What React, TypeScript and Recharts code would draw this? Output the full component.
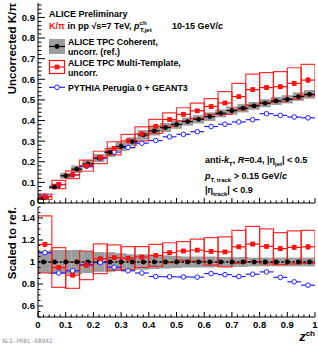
import React from "react";
import { ComposedChart, XAxis, YAxis, Scatter, ErrorBar, ReferenceArea } from "recharts";

const FONT = "'Liberation Sans', Arial, Helvetica, sans-serif";
const RED = "#ff1010";
const BLUE = "#2020ff";
const GRAY = "#9c9c9c";

// TPC coherent (reference): 25 bins of width 0.04
const zFine = [0.02, 0.06, 0.1, 0.14, 0.18, 0.22, 0.26, 0.3, 0.34, 0.38, 0.42, 0.46, 0.5, 0.54, 0.58, 0.62, 0.66, 0.7, 0.74, 0.78, 0.82, 0.86, 0.9, 0.94, 0.98];
const coherent = [0.024, 0.077, 0.132, 0.164, 0.19, 0.218, 0.246, 0.274, 0.298, 0.33, 0.35, 0.366, 0.381, 0.395, 0.406, 0.419, 0.435, 0.448, 0.46, 0.471, 0.484, 0.495, 0.503, 0.516, 0.527];
const coherentStat = [0.002, 0.002, 0.003, 0.003, 0.003, 0.003, 0.003, 0.003, 0.003, 0.003, 0.004, 0.004, 0.004, 0.004, 0.004, 0.005, 0.005, 0.005, 0.005, 0.006, 0.006, 0.006, 0.007, 0.007, 0.008];
const coherentSysRel = [0.1, 0.11, 0.11, 0.11, 0.1, 0.09, 0.09, 0.08, 0.07, 0.07, 0.065, 0.06, 0.055, 0.05, 0.05, 0.05, 0.045, 0.045, 0.045, 0.04, 0.04, 0.04, 0.04, 0.04, 0.04];

// multi-template and PYTHIA: 20 bins of width 0.05
const zCoarse = [0.025, 0.075, 0.125, 0.175, 0.225, 0.275, 0.325, 0.375, 0.425, 0.475, 0.525, 0.575, 0.625, 0.675, 0.725, 0.775, 0.825, 0.875, 0.925, 0.975];
const multi = [0.03, 0.09, 0.137, 0.181, 0.221, 0.265, 0.301, 0.335, 0.372, 0.405, 0.43, 0.447, 0.468, 0.485, 0.516, 0.55, 0.56, 0.564, 0.58, 0.596];
const multiStat = [0.003, 0.004, 0.004, 0.005, 0.005, 0.006, 0.006, 0.006, 0.007, 0.007, 0.008, 0.008, 0.009, 0.009, 0.01, 0.011, 0.012, 0.012, 0.013, 0.014];
const multiSys = [0.013, 0.02, 0.019, 0.027, 0.03, 0.032, 0.032, 0.034, 0.034, 0.032, 0.032, 0.037, 0.038, 0.055, 0.064, 0.075, 0.072, 0.073, 0.076, 0.076];
const multiRatio = [1.16, 0.95, 0.88, 0.97, 1.03, 1.04, 1.034, 1.045, 1.06, 1.085, 1.1, 1.108, 1.096, 1.092, 1.138, 1.163, 1.142, 1.122, 1.133, 1.138];
const multiRatioStat = [0.025, 0.015, 0.012, 0.01, 0.01, 0.01, 0.01, 0.01, 0.012, 0.012, 0.013, 0.014, 0.015, 0.016, 0.018, 0.02, 0.022, 0.022, 0.024, 0.026];
const multiRatioSys = [0.26, 0.18, 0.12, 0.13, 0.135, 0.115, 0.105, 0.095, 0.1, 0.09, 0.085, 0.1, 0.125, 0.137, 0.15, 0.16, 0.16, 0.145, 0.15, 0.15];

const pythia = [0.033, 0.089, 0.136, 0.178, 0.218, 0.247, 0.269, 0.29, 0.303, 0.321, 0.333, 0.346, 0.371, 0.382, 0.393, 0.404, 0.433, 0.425, 0.417, 0.413];
const pythiaStat = [0.001, 0.002, 0.002, 0.002, 0.002, 0.003, 0.003, 0.003, 0.003, 0.004, 0.004, 0.004, 0.005, 0.005, 0.005, 0.006, 0.006, 0.006, 0.007, 0.007];
const pythiaRatio = [1.085, 0.9, 0.92, 0.975, 0.995, 0.952, 0.92, 0.9, 0.868, 0.866, 0.864, 0.862, 0.895, 0.885, 0.868, 0.889, 0.91, 0.86, 0.82, 0.789];
const pythiaRatioStat = [0.008, 0.006, 0.006, 0.006, 0.006, 0.007, 0.007, 0.007, 0.008, 0.008, 0.008, 0.009, 0.009, 0.01, 0.01, 0.011, 0.012, 0.012, 0.013, 0.014];

const xMajor = [0, 0.1, 0.2, 0.3, 0.4, 0.5, 0.6, 0.7, 0.8, 0.9, 1];
const yTopMajor = [0, 0.1, 0.2, 0.3, 0.4, 0.5, 0.6, 0.7, 0.8, 0.9];
const yBotMajor = [0.6, 0.8, 1, 1.2, 1.4];

const steps = (lo: number, hi: number, step: number) =>
  Array.from({ length: Math.round((hi - lo) / step) + 1 }, (_, i) => +(lo + i * step).toFixed(4));
const xTicks = steps(0, 1, 0.02);
const yTopTicks = steps(0, 0.96, 0.02);
const yBotTicks = steps(0.5, 1.5, 0.05);

const fmt = (v: number) => String(Math.round(v * 10) / 10);

function makeTick(side: string, majors: number[], len: number, labels: boolean) {
  return (props: any) => {
    const { x, y, payload } = props;
    const v = payload.value;
    const major = majors.some((m) => Math.abs(m - v) < 1e-6);
    const l = major ? len : len / 2;
    let line = null;
    if (side === "bottom") line = <line x1={x} x2={x} y1={y} y2={y - l} stroke="#000" />;
    if (side === "top") line = <line x1={x} x2={x} y1={y} y2={y + l} stroke="#000" />;
    if (side === "left") line = <line x1={x} x2={x + l} y1={y} y2={y} stroke="#000" />;
    if (side === "right") line = <line x1={x} x2={x - l} y1={y} y2={y} stroke="#000" />;
    let label = null;
    if (labels && major) {
      label =
        side === "bottom" ? (
          <text x={x} y={y + 11} textAnchor="middle" fontSize={9.5} fontWeight="bold" fontFamily={FONT}>{fmt(v)}</text>
        ) : (
          <text x={x - 3} y={y + 3.4} textAnchor="end" fontSize={9.5} fontWeight="bold" fontFamily={FONT}>{fmt(v)}</text>
        );
    }
    return (
      <g>
        {line}
        {label}
      </g>
    );
  };
}

const filledCircle = (color: string) => (p: any) => <circle cx={p.cx} cy={p.cy} r={2.4} fill={color} />;
const openCircle = (color: string) => (p: any) => <circle cx={p.cx} cy={p.cy} r={2.3} fill="#fff" stroke={color} strokeWidth={1} />;
const square = (color: string) => (p: any) => <rect x={p.cx - 2.4} y={p.cy - 2.4} width={4.8} height={4.8} fill={color} />;

const rows = (xs: number[], ys: number[], ex: number, ey: number[]) =>
  xs.map((x, i) => ({ x, y: ys[i], ex, ey: ey[i] }));

const coherentRows = rows(zFine, coherent, 0.02, coherentStat);
const multiRows = rows(zCoarse, multi, 0.025, multiStat);
const pythiaRows = rows(zCoarse, pythia, 0.025, pythiaStat);
const refRatioRows = rows(zFine, zFine.map(() => 1), 0.02, coherentStat.map(() => 0));
const multiRatioRows = rows(zCoarse, multiRatio, 0.025, multiRatioStat);
const pythiaRatioRows = rows(zCoarse, pythiaRatio, 0.025, pythiaRatioStat);

function frameAxes(yDomain: number[], yTicks: number[], yMajors: number[], yLen: number, xLabels: boolean, xHeight: number) {
  return [
    <XAxis key="xb" type="number" dataKey="x" domain={[0, 1]} ticks={xTicks} interval={0} allowDataOverflow
      height={xHeight} tickSize={0} tickMargin={0} tickLine={false} axisLine={{ stroke: "#000" }}
      tick={makeTick("bottom", xMajor, 5, xLabels)} />,
    <XAxis key="xt" xAxisId="top" orientation="top" type="number" dataKey="x" domain={[0, 1]} ticks={xTicks} interval={0}
      allowDataOverflow height={0} tickSize={0} tickMargin={0} tickLine={false} axisLine={{ stroke: "#000" }}
      tick={makeTick("top", xMajor, 5, false)} />,
    <YAxis key="yl" type="number" domain={yDomain} ticks={yTicks} interval={0} allowDataOverflow width={38}
      tickSize={0} tickMargin={0} tickLine={false} axisLine={{ stroke: "#000" }}
      tick={makeTick("left", yMajors, yLen, true)} />,
    <YAxis key="yr" yAxisId="right" orientation="right" type="number" domain={yDomain} ticks={yTicks} interval={0}
      allowDataOverflow width={0} tickSize={0} tickMargin={0} tickLine={false} axisLine={{ stroke: "#000" }}
      tick={makeTick("right", yMajors, yLen, false)} />,
  ];
}

function UpperPanel() {
  return (
    <ComposedChart width={318} height={212} margin={{ top: 3, right: 3, bottom: 6, left: 0 }}>
      {frameAxes([0, 0.97], yTopTicks, yTopMajor, 7, false, 3)}
      {zFine.map((z, i) => (
        <ReferenceArea key={"g" + i} x1={z - 0.02} x2={z + 0.02}
          y1={coherent[i] * (1 - coherentSysRel[i])} y2={coherent[i] * (1 + coherentSysRel[i])}
          fill={GRAY} fillOpacity={1} stroke="none" ifOverflow="hidden" />
      ))}
      {zCoarse.map((z, i) => (
        <ReferenceArea key={"r" + i} x1={z - 0.025} x2={z + 0.025}
          y1={multi[i] - multiSys[i]} y2={multi[i] + multiSys[i]}
          fill="none" fillOpacity={0} stroke={RED} strokeWidth={1.2} strokeOpacity={0.85} ifOverflow="hidden" />
      ))}
      <Scatter data={pythiaRows} dataKey="y" isAnimationActive={false} shape={openCircle(BLUE)}>
        <ErrorBar dataKey="ex" direction="x" width={0} stroke={BLUE} strokeWidth={1.2} />
        <ErrorBar dataKey="ey" direction="y" width={0} stroke={BLUE} strokeWidth={1.2} />
      </Scatter>
      <Scatter data={coherentRows} dataKey="y" isAnimationActive={false} shape={filledCircle("#000")}>
        <ErrorBar dataKey="ex" direction="x" width={0} stroke="#000" strokeWidth={1.2} />
        <ErrorBar dataKey="ey" direction="y" width={0} stroke="#000" strokeWidth={1.2} />
      </Scatter>
      <Scatter data={multiRows} dataKey="y" isAnimationActive={false} shape={square(RED)}>
        <ErrorBar dataKey="ex" direction="x" width={0} stroke={RED} strokeWidth={1.2} />
        <ErrorBar dataKey="ey" direction="y" width={0} stroke={RED} strokeWidth={1.5} />
      </Scatter>
    </ComposedChart>
  );
}

function LowerPanel() {
  return (
    <ComposedChart width={318} height={140} margin={{ top: 1, right: 3, bottom: 0, left: 0 }}>
      {frameAxes([0.5, 1.5], yBotTicks, yBotMajor, 5, true, 29)}
      {zFine.map((z, i) => (
        <ReferenceArea key={"g" + i} x1={z - 0.02} x2={z + 0.02}
          y1={1 - coherentSysRel[i]} y2={1 + coherentSysRel[i]}
          fill={GRAY} fillOpacity={1} stroke="none" ifOverflow="hidden" />
      ))}
      {zCoarse.map((z, i) => (
        <ReferenceArea key={"r" + i} x1={z - 0.025} x2={z + 0.025}
          y1={multiRatio[i] - multiRatioSys[i]} y2={multiRatio[i] + multiRatioSys[i]}
          fill="none" fillOpacity={0} stroke={RED} strokeWidth={1.2} strokeOpacity={0.85} ifOverflow="hidden" />
      ))}
      <Scatter data={refRatioRows} dataKey="y" isAnimationActive={false} shape={filledCircle("#000")}>
        <ErrorBar dataKey="ex" direction="x" width={0} stroke="#000" strokeWidth={1.5} strokeDasharray="2 1.5" />
      </Scatter>
      <Scatter data={pythiaRatioRows} dataKey="y" isAnimationActive={false} shape={openCircle(BLUE)}>
        <ErrorBar dataKey="ex" direction="x" width={0} stroke={BLUE} strokeWidth={1.2} />
        <ErrorBar dataKey="ey" direction="y" width={0} stroke={BLUE} strokeWidth={1.2} />
      </Scatter>
      <Scatter data={multiRatioRows} dataKey="y" isAnimationActive={false} shape={square(RED)}>
        <ErrorBar dataKey="ex" direction="x" width={0} stroke={RED} strokeWidth={1.2} />
        <ErrorBar dataKey="ey" direction="y" width={0} stroke={RED} strokeWidth={1.5} />
      </Scatter>
    </ComposedChart>
  );
}

function Texts() {
  const t = { fontFamily: FONT, fontWeight: "bold" as const, fill: "#000" };
  return (
    <svg width={318} height={346} style={{ position: "absolute", left: 0, top: 0, pointerEvents: "none" }}>
      <text {...t} fontSize={11.5} transform="translate(15.5,3) rotate(-90)" textAnchor="end">Uncorrected K/π</text>
      <text {...t} fontSize={11.5} transform="translate(15.5,207) rotate(-90)" textAnchor="end">Scaled to ref.</text>

      <text {...t} x={49} y={17} fontSize={9}>ALICE Preliminary</text>
      <text {...t} x={49} y={29} fontSize={9}>
        <tspan fill={RED}>K/π</tspan>
        <tspan> in pp  √s=7 TeV, </tspan>
        <tspan fontStyle="italic">p</tspan>
        <tspan dy={-4} fontSize={6}>ch</tspan>
      </text>
      <text {...t} x={140} y={32} fontSize={6}>T,jet</text>
      <text {...t} x={172} y={29} fontSize={9}>
        10-15 GeV/<tspan fontStyle="italic">c</tspan>
      </text>

      <rect x={49} y={39} width={16} height={15} fill={GRAY} />
      <line x1={49} x2={65} y1={46.5} y2={46.5} stroke="#000" strokeWidth={1.2} />
      <circle cx={57} cy={46.5} r={2.4} fill="#000" />
      <text {...t} x={68} y={44.5} fontSize={8.8}>ALICE TPC Coherent,</text>
      <text {...t} x={68} y={55} fontSize={8.8}>uncorr. (ref.)</text>

      <rect x={49.5} y={60.5} width={15} height={13} fill="none" stroke={RED} strokeWidth={1.2} />
      <line x1={49.5} x2={64.5} y1={67} y2={67} stroke={RED} strokeWidth={1.2} />
      <rect x={54.6} y={64.6} width={4.8} height={4.8} fill={RED} />
      <text {...t} x={68} y={65.5} fontSize={8.8}>ALICE TPC Multi-Template,</text>
      <text {...t} x={68} y={75.5} fontSize={8.8}>uncorr.</text>

      <line x1={49} x2={65} y1={87.3} y2={87.3} stroke={BLUE} strokeWidth={1.2} />
      <circle cx={57} cy={87.3} r={2.3} fill="#fff" stroke={BLUE} strokeWidth={1} />
      <text {...t} x={68} y={90.5} fontSize={8.8}>PYTHIA Perugia 0 + GEANT3</text>

      <text {...t} x={205} y={163} fontSize={9}>
        anti-<tspan fontStyle="italic">k</tspan>
        <tspan dy={2.5} fontSize={6}>T</tspan>
        <tspan dy={-2.5}>,  </tspan>
        <tspan fontStyle="italic">R</tspan>=0.4, |η
        <tspan dy={2.5} fontSize={6}>jet</tspan>
        <tspan dy={-2.5}>| &lt; 0.5</tspan>
      </text>
      <text {...t} x={205} y={179} fontSize={9}>
        <tspan fontStyle="italic">p</tspan>
        <tspan dy={3} fontSize={6}>T, track</tspan>
        <tspan dy={-3}> &gt; 0.15 GeV/</tspan>
        <tspan fontStyle="italic">c</tspan>
      </text>
      <text {...t} x={205} y={193} fontSize={9}>
        |η<tspan dy={3} fontSize={6}>track</tspan>
        <tspan dy={-3}>| &lt; 0.9</tspan>
      </text>

      <text {...t} x={315} y={340.5} fontSize={13} textAnchor="end">
        <tspan fontStyle="italic">z</tspan>
        <tspan dy={-4.5} fontSize={8}>ch</tspan>
      </text>
      <text x={2} y={343} fontSize={6} fill="#8a8a8a" fontFamily="'DejaVu Sans Mono', monospace">ALI-PREL-68942</text>
    </svg>
  );
}

export default function App() {
  return (
    <div style={{ position: "absolute", left: 0, top: 0, width: 318, height: 346, background: "#fff" }}>
      <div style={{ position: "absolute", left: 0, top: 206 }}>
        <LowerPanel />
      </div>
      <div style={{ position: "absolute", left: 0, top: 0 }}>
        <UpperPanel />
      </div>
      <Texts />
    </div>
  );
}
